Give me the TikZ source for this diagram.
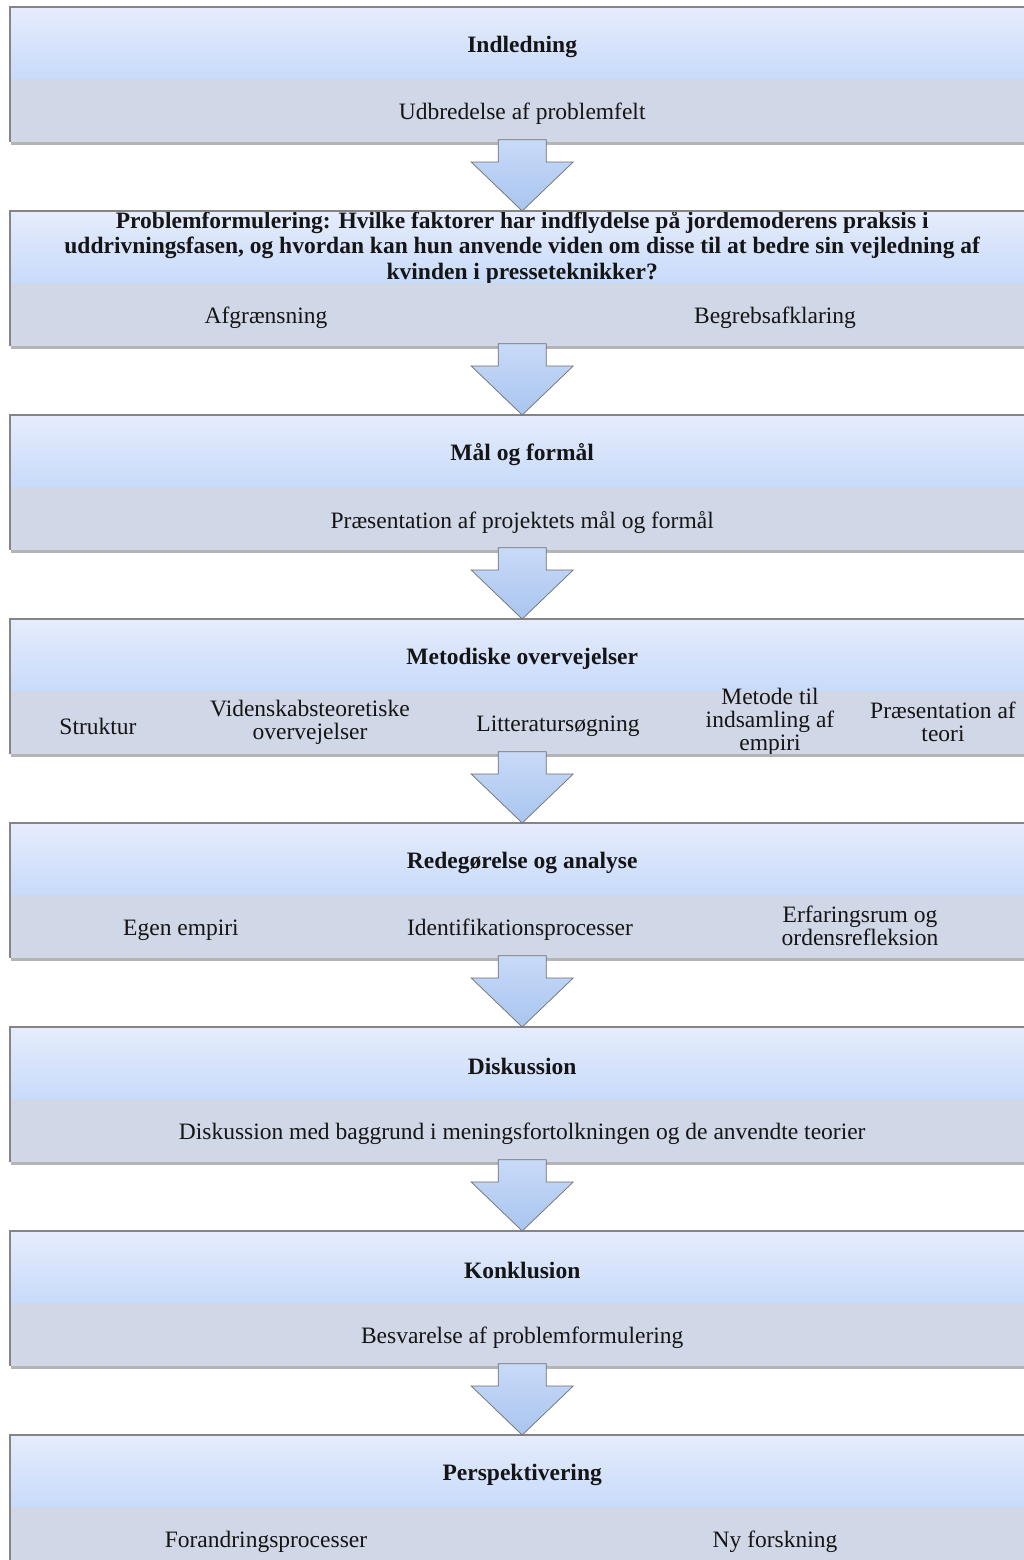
\documentclass[tikz,border=0pt]{standalone}
\usepackage{fontspec}
\setmainfont{Liberation Serif}
\usetikzlibrary{calc}
\definecolor{hdtop}{HTML}{E6ECFC}
\definecolor{hdbot}{HTML}{C8DBFA}
\definecolor{subfill}{HTML}{D0D7E6}
\definecolor{edgecol}{HTML}{858585}
\definecolor{arredge}{HTML}{6E6E6E}
\definecolor{shadcol}{HTML}{B4B4B4}
\definecolor{arrtop}{HTML}{C8DAF8}
\definecolor{arrbot}{HTML}{A9C5EF}
\definecolor{ink}{HTML}{151515}
\tikzset{
  hdr/.style={anchor=north west, minimum width=1024pt, minimum height=71pt, inner sep=0pt,
    top color=hdtop, bottom color=hdbot, draw=none},
  hdtxt/.style={text=ink, font=\fontsize{23.5}{26}\selectfont\bfseries, align=center, inner sep=0pt, yshift=-4pt},
  subband/.style={anchor=north west, minimum width=1024pt, minimum height=63pt, inner sep=0pt,
    fill=subfill, draw=none},
  txt/.style={text=ink, font=\fontsize{23.5}{23}\selectfont, align=center, inner sep=0pt, yshift=-4pt},
  multi/.style={yshift=4pt},
  edgeline/.style={draw=edgecol, line width=1.2pt},
  shadline/.style={draw=shadcol, line width=2.5pt},
  blockarrow/.style={top color=arrtop, bottom color=arrbot, draw=arredge, line width=0.7pt, line join=miter}
}
\newcommand{\blockarrow}[2]{%
  \path[blockarrow] ($(#1.south)+(-24,-2)$) -- ($(#1.south)+(24,-2)$) -- ($(#2.north)+(24,-49)$)
    -- ($(#2.north)+(51,-49)$) -- (#2.north) -- ($(#2.north)+(-51,-49)$) -- ($(#2.north)+(-24,-49)$) -- cycle;}
\newcommand{\blockframe}[2]{%
  \draw[shadline] ($(#2.south west)+(1,1.5)$) -- ($(#2.south east)+(0,1.5)$);
  \draw[edgeline] (#2.south west) -- (#1.north west) -- (#1.north east);}
\begin{document}
\begin{tikzpicture}[x=1pt,y=-1pt]
\useasboundingbox[fill=white] (0,0) rectangle (1024,1560);

% blocks
\node[hdr] (h1) at (10,7) {};
\node[hdtxt] (l1) at (h1.center) {Indledning};
\node[subband] (s1) at (h1.south west) {};
\node[txt] (t1) at (s1.center) {Udbredelse af problemfelt};

\node[hdr] (h2) at (10,211) {};
\node[hdtxt, font=\fontsize{23.5}{25.5}\selectfont\bfseries, yshift=3pt] (l2) at (h2.center) {Problemformulering: Hvilke faktorer har indflydelse på jordemoderens praksis i\\uddrivningsfasen, og hvordan kan hun anvende viden om disse til at bedre sin vejledning af\\kvinden i presseteknikker?};
\node[subband] (s2) at (h2.south west) {};
\node[txt] (t2a) at ($(s2.west)+(256,0)$) {Afgrænsning};
\node[txt] (t2b) at ($(s2.west)+(765,0)$) {Begrebsafklaring};

\node[hdr] (h3) at (10,415) {};
\node[hdtxt] (l3) at (h3.center) {Mål og formål};
\node[subband] (s3) at (h3.south west) {};
\node[txt] (t3) at (s3.center) {Præsentation af projektets mål og formål};

\node[hdr] (h4) at (10,619) {};
\node[hdtxt] (l4) at (h4.center) {Metodiske overvejelser};
\node[subband] (s4) at (h4.south west) {};
\node[txt] (t4a) at ($(s4.west)+(88,0)$) {Struktur};
\node[txt, multi] (t4b) at ($(s4.west)+(300,0)$) {Videnskabsteoretiske\\overvejelser};
\node[txt] (t4c) at ($(s4.west)+(548,0)$) {Litteratursøgning};
\node[txt, multi] (t4d) at ($(s4.west)+(760,0)$) {Metode til\\indsamling af\\empiri};
\node[txt, multi] (t4e) at ($(s4.west)+(933,0)$) {Præsentation af\\teori};

\node[hdr] (h5) at (10,823) {};
\node[hdtxt] (l5) at (h5.center) {Redegørelse og analyse};
\node[subband] (s5) at (h5.south west) {};
\node[txt] (t5a) at ($(s5.west)+(171,0)$) {Egen empiri};
\node[txt] (t5b) at ($(s5.west)+(510,0)$) {Identifikationsprocesser};
\node[txt, multi] (t5c) at ($(s5.west)+(850,0)$) {Erfaringsrum og\\ordensrefleksion};

\node[hdr] (h6) at (10,1027) {};
\node[hdtxt] (l6) at (h6.center) {Diskussion};
\node[subband] (s6) at (h6.south west) {};
\node[txt] (t6) at (s6.center) {Diskussion med baggrund i meningsfortolkningen og de anvendte teorier};

\node[hdr] (h7) at (10,1231) {};
\node[hdtxt] (l7) at (h7.center) {Konklusion};
\node[subband] (s7) at (h7.south west) {};
\node[txt] (t7) at (s7.center) {Besvarelse af problemformulering};

\node[hdr] (h8) at (10,1435) {};
\node[hdtxt] (l8) at (h8.center) {Perspektivering};
\node[subband] (s8) at (h8.south west) {};
\node[txt] (t8a) at ($(s8.west)+(256,0)$) {Forandringsprocesser};
\node[txt] (t8b) at ($(s8.west)+(765,0)$) {Ny forskning};

% frames
\blockframe{h1}{s1}
\blockframe{h2}{s2}
\blockframe{h3}{s3}
\blockframe{h4}{s4}
\blockframe{h5}{s5}
\blockframe{h6}{s6}
\blockframe{h7}{s7}
\blockframe{h8}{s8}

% arrows
\blockarrow{s1}{h2}
\blockarrow{s2}{h3}
\blockarrow{s3}{h4}
\blockarrow{s4}{h5}
\blockarrow{s5}{h6}
\blockarrow{s6}{h7}
\blockarrow{s7}{h8}
\end{tikzpicture}
\end{document}
